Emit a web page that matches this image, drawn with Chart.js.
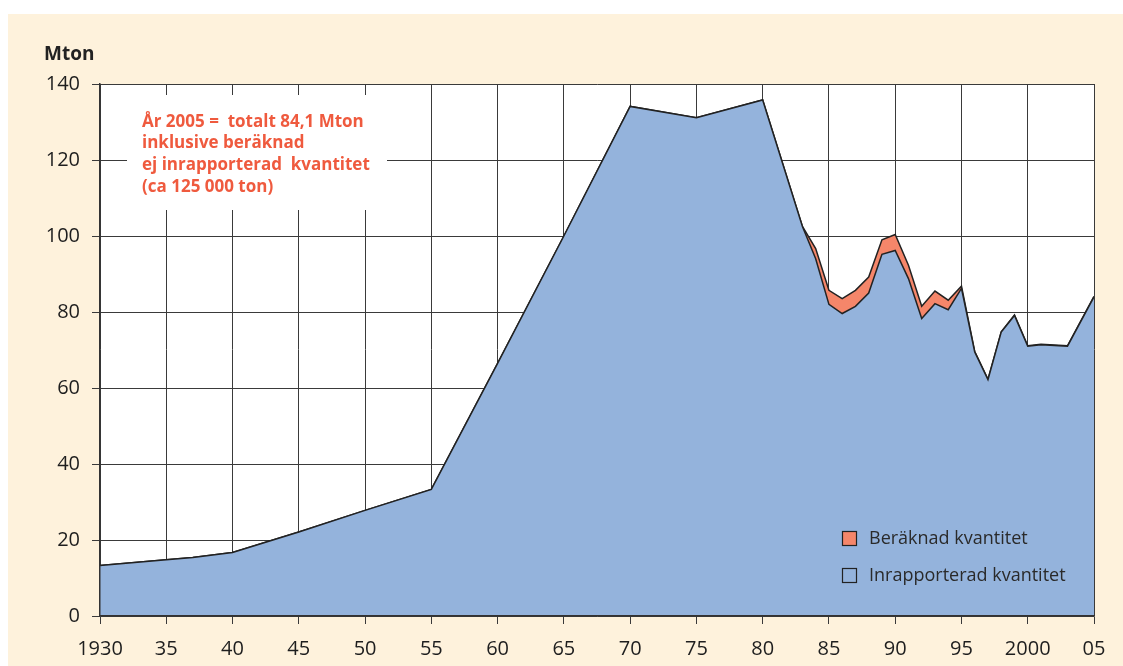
<!DOCTYPE html>
<html>
<head>
<meta charset="utf-8">
<script src="https://cdn.jsdelivr.net/npm/chart.js@4.4.0/dist/chart.umd.min.js"></script>
<style>
  html, body { margin: 0; padding: 0; background: #fff; }
  #wrap { position: absolute; left: 8px; top: 14px; width: 1115px; height: 652px; background: #fef2dc; }
</style>
</head>
<body>
<div id="wrap"><canvas id="chart" width="1115" height="652"></canvas></div>
<script>
// Mton per year
const years = [1930, 1935, 1937, 1940, 1945, 1950, 1955, 1960, 1965, 1970, 1975, 1980,
  1983, 1984, 1985, 1986, 1987, 1988, 1989, 1990, 1991, 1992, 1993, 1994, 1995,
  1996, 1997, 1998, 1999, 2000, 2001, 2003, 2005];
const reported = [13.3, 14.8, 15.4, 16.7, 22.1, 27.8, 33.3, 66.5, 100, 134.1, 131.1, 135.8,
  102.5, 94.0, 82.0, 79.6, 81.5, 85.0, 95.2, 96.2, 88.8, 78.3, 82.2, 80.6, 86.2,
  69.5, 62.2, 74.7, 79.1, 71.0, 71.4, 71.0, 84.0];
const estimated = [0, 0, 0, 0, 0, 0, 0, 0, 0, 0, 0, 0,
  0, 2.7, 3.7, 3.9, 4.2, 4.2, 3.8, 4.2, 3.5, 3.2, 3.3, 2.5, 0.6,
  0.1, 0.1, 0.1, 0.1, 0.1, 0.1, 0.1, 0.1];
const yTicks = [0, 20, 40, 60, 80, 100, 120, 140];
const noteLines = ["År 2005 =  totalt 84,1 Mton", "inklusive beräknad", "ej inrapporterad  kvantitet", "(ca 125 000 ton)"];
const legendLabels = ["Beräknad kvantitet", "Inrapporterad kvantitet"];

const BLUE = "#94b3dc";
const ORANGE = "#f5866a";
const FONT = "'Open Sans', sans-serif";

const reportedPts = years.map((y, i) => ({ x: y, y: reported[i] }));
const totalPts = years.map((y, i) => ({ x: y, y: reported[i] + estimated[i] }));

const decor = {
  id: "decor",
  beforeDraw(chart) {
    const { ctx, chartArea: a } = chart;
    ctx.save();
    ctx.fillStyle = "#fff";
    ctx.fillRect(a.left, a.top, a.right - a.left, a.bottom - a.top);
    ctx.restore();
  },
  beforeDatasetsDraw(chart) {
    const ctx = chart.ctx;
    ctx.save();
    ctx.fillStyle = "#fff";
    ctx.fillRect(119, 81, 260, 115);
    ctx.fillStyle = "#ef5a3e";
    ctx.font = "bold 17px " + FONT;
    ctx.textBaseline = "alphabetic";
    const base = [113, 134, 156, 178];
    noteLines.forEach((t, i) => ctx.fillText(t, 134, base[i]));
    ctx.restore();
  },
  afterDatasetsDraw(chart) {
    const ctx = chart.ctx;
    ctx.save();
    const fills = [ORANGE, BLUE];
    const tops = [517, 554];
    ctx.lineWidth = 1.2;
    ctx.strokeStyle = "#222";
    ctx.font = "18px " + FONT;
    ctx.textBaseline = "middle";
    legendLabels.forEach((t, i) => {
      ctx.fillStyle = fills[i];
      ctx.fillRect(834, tops[i], 15, 15);
      ctx.strokeRect(834.5, tops[i] + 0.5, 14, 14);
      ctx.fillStyle = "#2a2a2a";
      ctx.fillText(t, 861, tops[i] + 8);
    });
    ctx.restore();
  },
  afterDraw(chart) {
    const ctx = chart.ctx;
    ctx.save();
    ctx.fillStyle = "#222";
    ctx.font = "bold 19px " + FONT;
    ctx.textBaseline = "alphabetic";
    ctx.fillText("Mton", 36, 46);
    ctx.restore();
  }
};

new Chart(document.getElementById("chart"), {
  type: "line",
  data: {
    datasets: [
      {
        label: legendLabels[1],
        data: reportedPts,
        borderColor: "#222",
        borderWidth: 1.5,
        backgroundColor: BLUE,
        fill: "origin",
        pointRadius: 0,
        tension: 0
      },
      {
        label: legendLabels[0],
        data: totalPts,
        borderColor: "#222",
        borderWidth: 1.5,
        backgroundColor: ORANGE,
        fill: "-1",
        pointRadius: 0,
        tension: 0
      }
    ]
  },
  options: {
    responsive: false,
    animation: false,
    layout: { padding: { top: 70, right: 29, left: 0, bottom: 0 } },
    plugins: {
      legend: { display: false },
      tooltip: { enabled: false }
    },
    scales: {
      x: {
        type: "linear",
        min: 1930,
        max: 2005,
        afterFit: s => { s.height = 50; },
        ticks: {
          stepSize: 5,
          padding: 13,
          color: "#1e1e1e",
          font: { family: FONT, size: 20 },
          maxRotation: 0,
          callback: v => (v === 1930 || v === 2000) ? String(v) : String(v).slice(2)
        },
        grid: { color: "#3a3a3a", lineWidth: 1, tickLength: 8, drawTicks: true },
        border: { color: "#333", width: 1.5, z: 1 }
      },
      y: {
        min: 0,
        max: 140,
        afterFit: s => { s.width = 92; },
        afterBuildTicks: s => { s.ticks = yTicks.map(v => ({ value: v })); },
        ticks: {
          padding: 12,
          color: "#1e1e1e",
          font: { family: FONT, size: 20 }
        },
        grid: { color: "#3a3a3a", lineWidth: 1, tickLength: 8, drawTicks: true },
        border: { color: "#333", width: 1.5, z: 1 }
      }
    }
  },
  plugins: [decor]
});
</script>
</body>
</html>
